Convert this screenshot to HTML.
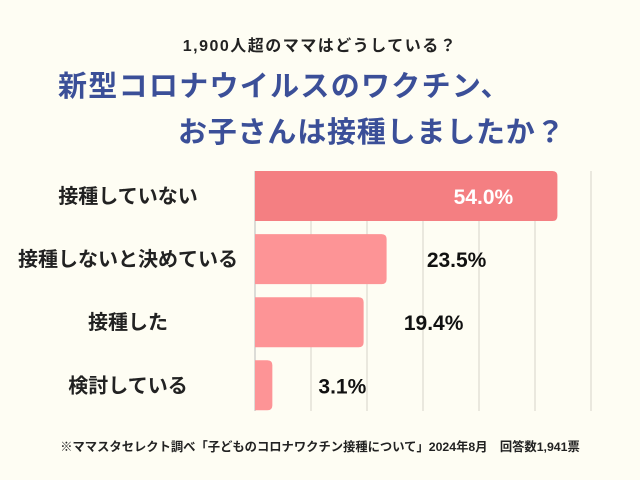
<!DOCTYPE html>
<html><head><meta charset="utf-8"><style>
body{margin:0;background:#fefdf3;}
#c{position:relative;width:640px;height:480px;background:#fefdf3;font-family:"Liberation Sans","Noto Sans CJK JP",sans-serif;overflow:hidden}
.t{position:absolute;white-space:nowrap;font-weight:bold}
</style></head><body>
<div id="c">
<div class="t" style="left:0;width:640px;text-align:center;top:32px;font-size:16px;letter-spacing:1.5px;color:#222">1,900人超のママはどうしている？</div>
<div class="t" style="left:58px;top:63px;font-size:29px;letter-spacing:1.3px;color:#3b4f98">新型コロナウイルスのワクチン、</div>
<div class="t" style="left:178px;top:109px;font-size:29px;letter-spacing:0.8px;color:#3b4f98">お子さんは接種しましたか？</div>
<svg id="s" width="640" height="480" style="position:absolute;left:0;top:0"></svg>
<div class="t" style="left:0;width:640px;text-align:center;top:437px;font-size:12.3px;color:#222">※ママスタセレクト調べ「子どものコロナワクチン接種について」2024年8月　回答数1,941票</div>
</div>
<script>
const categories=["接種していない","接種しないと決めている","接種した","検討している"];
const values=[54.0,23.5,19.4,3.1];
const gridTicks=[10,20,30,40,50,60];
const NS="http://www.w3.org/2000/svg",svg=document.getElementById('s');
const x0=255,pxPer=5.6,top0=171,step=63.1,bh=50;
const xs=v=>x0+v*pxPer, ys=i=>top0+i*step;
function mk(t,a){const e=document.createElementNS(NS,t);for(const k in a)e.setAttribute(k,a[k]);svg.appendChild(e);return e;}
gridTicks.forEach(t=>{const l=mk('line',{x1:xs(t),x2:xs(t),y1:171,y2:411,stroke:'#e4e2d8','stroke-width':1.5});

});
const ax=mk('line',{x1:x0,x2:x0,y1:171,y2:411,stroke:'#bbb','stroke-width':1});


values.forEach((v,i)=>{
const y=ys(i);
const r=mk('path',{d:`M${x0},${y}H${xs(v)-5}Q${xs(v)},${y} ${xs(v)},${y+5}V${y+bh-5}Q${xs(v)},${y+bh} ${xs(v)-5},${y+bh}H${x0}Z`,fill:i==0?'#f47f82':'#fd9496'});


const lab=mk('text',{x:128,y:y+bh/2+7,'text-anchor':'middle','font-size':20,'font-weight':'bold',fill:'#222'});
lab.textContent=categories[i];


const inside=i==0;
const vt=mk('text',{x:inside?xs(v)-74:xs(v)+70,y:y+bh/2+8,'text-anchor':'middle','font-size':21,'font-weight':'bold',fill:inside?'#fff':'#111'});
vt.textContent=v.toFixed(1)+'%';


});
</script>
</body></html>
